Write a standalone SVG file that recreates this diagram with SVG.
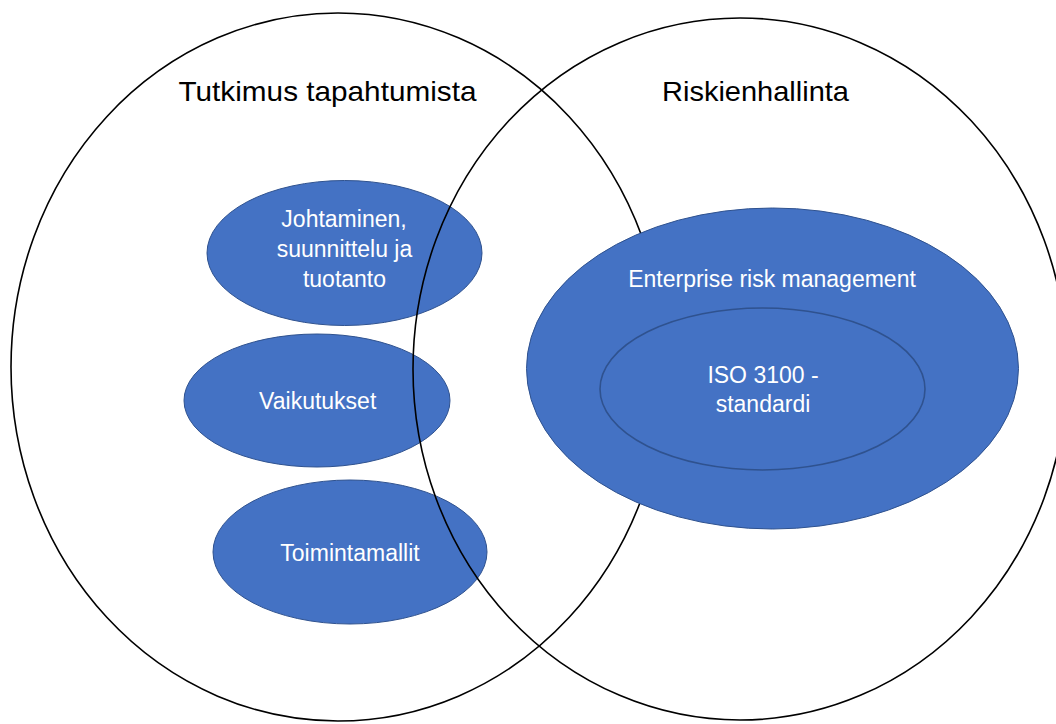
<svg xmlns="http://www.w3.org/2000/svg" width="1056" height="724" viewBox="0 0 1056 724">
<style>
.big{fill:none;stroke:#000;stroke-width:1.6}
.blob{fill:#4472C4;stroke:#2F528F;stroke-width:1}
.inner{fill:none;stroke:#2F528F;stroke-width:1.6}
.t{font-family:"Liberation Sans",Arial,sans-serif;font-size:23px;fill:#fff;text-anchor:middle}
.h{font-family:"Liberation Sans",Arial,sans-serif;font-size:28px;fill:#000;text-anchor:middle}
</style>
<rect width="1056" height="724" fill="#fff"/>
<g id="tutkimus">
<ellipse class="big" cx="338" cy="367" rx="327" ry="354"/>
<text class="h" x="327.5" y="101" textLength="298" lengthAdjust="spacingAndGlyphs">Tutkimus tapahtumista</text>
</g>
<g id="johtaminen">
<ellipse class="blob" cx="344.5" cy="253" rx="137.5" ry="72.5"/>
<text class="t" x="344" y="227">Johtaminen,</text>
<text class="t" x="344.5" y="257">suunnittelu ja</text>
<text class="t" x="344.5" y="287">tuotanto</text>
</g>
<g id="vaikutukset">
<ellipse class="blob" cx="317" cy="400.5" rx="133" ry="66.5"/>
<text class="t" x="317.7" y="409">Vaikutukset</text>
</g>
<g id="toimintamallit">
<ellipse class="blob" cx="350" cy="552" rx="137" ry="72"/>
<text class="t" x="350" y="560.5">Toimintamallit</text>
</g>
<g id="riskienhallinta">
<ellipse class="big" cx="740" cy="369" rx="327" ry="351"/>
<text class="h" x="755.5" y="101" textLength="187" lengthAdjust="spacingAndGlyphs">Riskienhallinta</text>
</g>
<g id="erm">
<ellipse class="blob" cx="772.5" cy="368.5" rx="246" ry="160.5"/>
<text class="t" x="772" y="287">Enterprise risk management</text>
</g>
<g id="iso">
<ellipse class="inner" cx="762.5" cy="389" rx="162.5" ry="81"/>
<text class="t" x="763" y="382.5">ISO 3100 -</text>
<text class="t" x="763" y="412">standardi</text>
</g>
<g id="connectors"/>
</svg>
